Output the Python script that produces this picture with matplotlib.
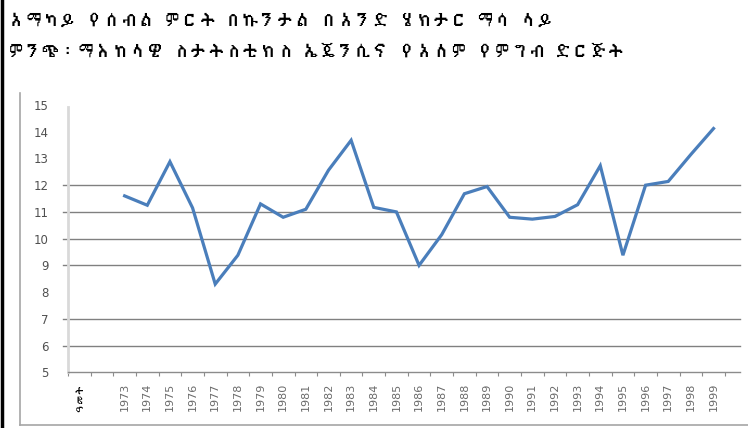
import matplotlib
matplotlib.use("Agg")
import matplotlib.pyplot as plt
from matplotlib import font_manager
from matplotlib.ft2font import FT2Font
from matplotlib.lines import Line2D

# data
title_lines = ["አማካይ የሰብል ምርት በኩንታል በአንድ ሄክታር ማሳ ላይ",
               "ምንጭ፡ ማእከላዊ ስታትስቲክስ ኤጄንሲና የአለም የምግብ ድርጅት"]
axis_word = "ዓመት"
years = list(range(1973, 2000))
yields = [11.6, 11.25, 12.88, 11.15, 8.3, 9.38, 11.3, 10.8, 11.1, 12.56,
          13.68, 11.17, 11.0, 9.0, 10.15, 11.68, 11.95, 10.8, 10.73, 10.83,
          11.27, 12.73, 9.38, 12.0, 12.14, 13.15, 14.12]
grid_vals = [6, 7, 9, 10, 11, 12]

# installed fonts that have Ethiopic glyphs, proportional ones first
eth = []
for f in font_manager.fontManager.ttflist:
    try:
        if 0x12A0 in FT2Font(f.fname).get_charmap():
            eth.append(f)
    except Exception:
        pass
eth.sort(key=lambda f: ("Mono" in f.name, f.style != "normal"))
eth_font = eth[0].name if eth else None
fam = [eth_font, "DejaVu Sans"] if eth_font else ["DejaVu Sans"]

W, H = 748, 428
fig = plt.figure(figsize=(W / 100, H / 100), dpi=100)

# frame bits
fig.add_artist(Line2D([2 / W, 2 / W], [0, 1], color="black", lw=2.5))
fig.add_artist(Line2D([20 / W, 20 / W], [1 - 425 / H, 1 - 93 / H], color="#a6a6a6", lw=1.2))
fig.add_artist(Line2D([20 / W, 1], [1 - 425 / H, 1 - 425 / H], color="#a6a6a6", lw=1.2))

fig.text(8 / W, 1 - 21 / H, title_lines[0], fontsize=12.5, family=fam,
         weight="bold", va="center", ha="left")
fig.text(8 / W, 1 - 51 / H, title_lines[1], fontsize=12.5, family=fam,
         weight="bold", va="center", ha="left")

ax = fig.add_axes([68 / W, 1 - 372.3 / H, 672 / W, (372.3 - 105) / H])

labels = [axis_word, ""] + [str(y) for y in years]
xs = list(range(2, 2 + len(years)))
ax.plot(xs, yields, color="#4a7ebb", lw=2.3, solid_joinstyle="miter", zorder=3)

xmax = 672 / 22.65 - 0.5
ax.set_xlim(-0.5, xmax)
ax.set_ylim(5, 15)

for v in grid_vals:
    ax.plot([-0.72, xmax], [v, v], color="#808080", lw=1, clip_on=False, zorder=1)

for s in ["top", "right", "left"]:
    ax.spines[s].set_visible(False)
ax.spines["bottom"].set_color("#8c8c8c")
ax.spines["bottom"].set_linewidth(1)
ax.plot([-0.5, -0.5], [5, 14.92], color="#d9d9d9", lw=2, clip_on=False, zorder=2)

ax.set_yticks(range(5, 16))
ax.set_yticklabels([str(v) for v in range(5, 16)], fontsize=8.5, color="#505050",
                   family="DejaVu Sans")
ax.tick_params(axis="y", length=0, pad=14)

ax.set_xticks([i - 0.5 for i in range(len(labels) + 1)])
ax.set_xticklabels([])
ax.tick_params(axis="x", length=3, color="#8c8c8c", direction="out")
for i, lab in enumerate(labels):
    if not lab:
        continue
    if i == 0:
        ax.text(i, 4.62, lab, rotation=90, ha="center", va="top", fontsize=7,
                family=fam, color="black")
    else:
        ax.text(i, 4.62, lab, rotation=90, ha="center", va="top", fontsize=8,
                family="DejaVu Sans", color="#6a6a6a")

fig.savefig("out.png", dpi=100)
